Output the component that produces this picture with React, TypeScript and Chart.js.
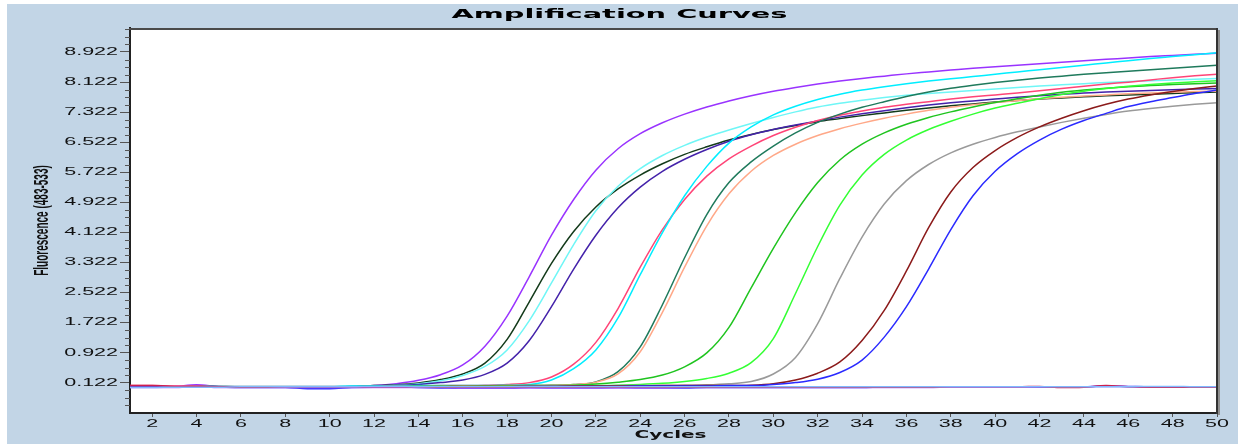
import React, { useEffect, useRef } from "react";
import { Chart, registerables } from "chart.js";

Chart.register(...registerables);

// ---------------- data ----------------
const cycles = [
  1, 2, 3, 4, 5, 6, 7, 8, 9, 10,
  11, 12, 13, 14, 15, 16, 17, 18, 19, 20,
  21, 22, 23, 24, 25, 26, 27, 28, 29, 30,
  31, 32, 33, 34, 35, 36, 37, 38, 39, 40,
  41, 42, 43, 44, 45, 46, 47, 48, 49, 50,
];
const xTickValues = [2, 4, 6, 8, 10, 12, 14, 16, 18, 20, 22, 24, 26, 28, 30, 32, 34, 36, 38, 40, 42, 44, 46, 48, 50];
const yTickValues = [0.122, 0.922, 1.722, 2.522, 3.322, 4.122, 4.922, 5.722, 6.522, 7.322, 8.122, 8.922];
const Y_MINOR_STEP = 0.2;
const X_MIN = 1;
const X_MAX = 50;
const Y_MIN = -0.678;
const Y_MAX = 9.56;

const purple = [
  0.03, 0.02, 0.03, 0.07, 0.03, 0.02, 0.02, 0.02, 0.02, 0.02,
  0.03, 0.05, 0.1, 0.19, 0.34, 0.6, 1.1, 1.9, 2.95, 4.05,
  5.0, 5.78, 6.35, 6.75, 7.04, 7.27, 7.46, 7.62, 7.76, 7.88,
  7.98, 8.07, 8.15, 8.22, 8.28, 8.34, 8.39, 8.44, 8.49, 8.53,
  8.57, 8.61, 8.65, 8.69, 8.73, 8.76, 8.8, 8.83, 8.86, 8.89,
];
const darkGreen = [
  0.02, 0.02, 0.02, 0.04, 0.03, 0.02, 0.02, 0.02, 0.02, 0.02,
  0.03, 0.05, 0.07, 0.12, 0.21, 0.36, 0.65, 1.28, 2.28, 3.3,
  4.15, 4.8, 5.28, 5.65, 5.95, 6.2, 6.4, 6.58, 6.73, 6.86,
  6.97, 7.07, 7.15, 7.23, 7.3, 7.37, 7.43, 7.49, 7.54, 7.59,
  7.63, 7.67, 7.7, 7.73, 7.76, 7.78, 7.8, 7.82, 7.84, 7.86,
];
const lightCyan = [
  0.02, 0.02, 0.02, 0.03, 0.02, 0.02, 0.02, 0.02, 0.02, 0.02,
  0.03, 0.04, 0.06, 0.1, 0.18, 0.32, 0.56, 1.0, 1.78, 2.78,
  3.8, 4.7, 5.35, 5.82, 6.17, 6.44, 6.66, 6.85, 7.02, 7.18,
  7.33, 7.46, 7.56, 7.64, 7.71, 7.77, 7.82, 7.86, 7.9, 7.94,
  7.98, 8.02, 8.05, 8.08, 8.11, 8.14, 8.16, 8.18, 8.2, 8.22,
];
const indigo = [
  0.02, 0.02, 0.02, 0.03, 0.02, 0.01, 0.01, 0.02, 0.01, 0.02,
  0.02, 0.03, 0.05, 0.08, 0.13, 0.2, 0.35, 0.65, 1.25, 2.15,
  3.15, 4.05, 4.78, 5.33, 5.75, 6.07, 6.33, 6.55, 6.72, 6.86,
  6.98, 7.09, 7.19, 7.28, 7.36, 7.44, 7.51, 7.57, 7.62, 7.67,
  7.72, 7.76, 7.8, 7.83, 7.86, 7.88, 7.9, 7.92, 7.94, 7.95,
];
const pink = [
  0.05, 0.05, 0.04, 0.04, 0.03, 0.03, 0.03, 0.03, 0.03, 0.03,
  0.03, 0.03, 0.04, 0.04, 0.05, 0.05, 0.06, 0.08, 0.13, 0.28,
  0.62, 1.2, 2.1, 3.2, 4.2, 5.0, 5.62, 6.08, 6.42, 6.7,
  6.92, 7.1, 7.24, 7.35, 7.45, 7.53, 7.6, 7.67, 7.73, 7.78,
  7.83, 7.89, 7.95, 8.01, 8.07, 8.12, 8.18, 8.24, 8.29, 8.33,
];
const cyan = [
  0.02, 0.02, 0.02, 0.02, 0.03, 0.03, 0.03, 0.03, 0.03, 0.03,
  0.04, 0.04, 0.04, 0.05, 0.05, 0.05, 0.05, 0.06, 0.08, 0.2,
  0.5, 1.0, 1.85, 3.0, 4.12, 5.1, 5.88, 6.5, 6.93, 7.25,
  7.48, 7.66, 7.8, 7.91, 8.0, 8.08, 8.15, 8.21, 8.27, 8.33,
  8.39, 8.45, 8.51, 8.57, 8.63, 8.69, 8.75, 8.8, 8.85, 8.9,
];
const teal = [
  0.02, 0.02, 0.02, 0.02, 0.02, 0.02, 0.02, 0.02, 0.02, 0.02,
  0.02, 0.03, 0.03, 0.03, 0.04, 0.04, 0.04, 0.05, 0.05, 0.06,
  0.08, 0.15, 0.42, 1.08, 2.2, 3.45, 4.6, 5.45, 6.0, 6.42,
  6.77, 7.05, 7.27, 7.45, 7.6, 7.74, 7.86, 7.96, 8.04, 8.11,
  8.17, 8.23, 8.28, 8.33, 8.37, 8.41, 8.45, 8.49, 8.53, 8.57,
];
const salmon = [
  0.02, 0.02, 0.02, 0.02, 0.02, 0.02, 0.02, 0.02, 0.02, 0.02,
  0.02, 0.02, 0.03, 0.03, 0.03, 0.04, 0.04, 0.05, 0.05, 0.06,
  0.08, 0.14, 0.36, 0.95, 2.0, 3.2, 4.3, 5.15, 5.75, 6.17,
  6.47, 6.7, 6.88, 7.03, 7.16, 7.27, 7.37, 7.45, 7.52, 7.58,
  7.63, 7.68, 7.72, 7.75, 7.78, 7.81, 7.83, 7.85, 7.87, 7.88,
];
const mediumGreen = [
  0.02, 0.02, 0.02, 0.02, 0.02, 0.02, 0.02, 0.02, 0.02, 0.02,
  0.02, 0.02, 0.02, 0.03, 0.03, 0.03, 0.04, 0.04, 0.05, 0.05,
  0.06, 0.09, 0.14, 0.21, 0.33, 0.55, 0.92, 1.6, 2.65, 3.7,
  4.65, 5.45, 6.05, 6.47, 6.77, 7.0, 7.18, 7.33, 7.46, 7.58,
  7.68, 7.77, 7.85, 7.91, 7.96, 8.0, 8.03, 8.06, 8.08, 8.1,
];
const lime = [
  0.02, 0.02, 0.02, 0.02, 0.02, 0.02, 0.02, 0.02, 0.02, 0.02,
  0.02, 0.02, 0.02, 0.02, 0.03, 0.03, 0.03, 0.04, 0.04, 0.04,
  0.05, 0.05, 0.06, 0.08, 0.11, 0.16, 0.24, 0.38, 0.66, 1.3,
  2.5, 3.75, 4.85, 5.65, 6.2, 6.58, 6.86, 7.08, 7.27, 7.43,
  7.56, 7.68, 7.79, 7.88, 7.95, 8.01, 8.06, 8.1, 8.13, 8.16,
];
const gray = [
  0.02, 0.02, 0.02, 0.02, 0.02, 0.02, 0.02, 0.02, 0.02, 0.02,
  0.02, 0.02, 0.02, 0.02, 0.03, 0.03, 0.03, 0.03, 0.04, 0.04,
  0.04, 0.04, 0.05, 0.05, 0.05, 0.06, 0.07, 0.1, 0.16, 0.36,
  0.8, 1.7, 2.9, 4.0, 4.88, 5.5, 5.93, 6.24, 6.47, 6.65,
  6.8, 6.93, 7.05, 7.16, 7.26, 7.35, 7.42, 7.48, 7.53, 7.57,
];
const darkRed = [
  0.02, 0.02, 0.02, 0.02, 0.02, 0.02, 0.02, 0.02, 0.02, 0.02,
  0.02, 0.02, 0.02, 0.02, 0.02, 0.03, 0.03, 0.03, 0.03, 0.03,
  0.04, 0.04, 0.04, 0.04, 0.05, 0.05, 0.05, 0.05, 0.06, 0.1,
  0.2, 0.38, 0.68, 1.25, 2.05, 3.1, 4.25, 5.2, 5.85, 6.3,
  6.65, 6.93, 7.16, 7.36, 7.53, 7.67, 7.78, 7.87, 7.95, 8.02,
];
const blue = [
  0.01, 0.01, 0.01, 0.01, 0.01, 0.01, 0.01, 0.01, 0.01, 0.01,
  0.01, 0.01, 0.02, 0.02, 0.02, 0.02, 0.02, 0.02, 0.03, 0.03,
  0.03, 0.03, 0.03, 0.04, 0.04, 0.04, 0.04, 0.05, 0.05, 0.08,
  0.13, 0.22, 0.4, 0.73, 1.34, 2.15, 3.15, 4.2, 5.1, 5.75,
  6.22, 6.58, 6.87, 7.1, 7.29, 7.47, 7.6, 7.71, 7.82, 7.91,
];
const flatBlue = [
  0.01, 0.01, 0.01, 0.02, 0.01, 0.0, 0.0, 0.0, -0.03, -0.03,
  0.0, 0.01, 0.01, 0.0, -0.01, -0.02, -0.02, -0.02, 0.0, -0.01,
  -0.01, -0.01, 0.0, -0.01, -0.01, -0.01, 0.0, 0.0, 0.0, 0.0,
  0.0, 0.0, 0.0, 0.0, 0.01, 0.01, 0.02, 0.02, 0.02, 0.01,
  0.01, 0.01, 0.01, 0.02, 0.04, 0.03, 0.02, 0.02, 0.02, 0.02,
];
const flatRed = [
  0.05, 0.05, 0.03, 0.02, 0.02, 0.01, 0.01, 0.02, 0.02, 0.02,
  0.02, 0.02, 0.02, 0.02, 0.01, 0.01, 0.01, 0.01, 0.01, 0.01,
  0.01, 0.01, 0.01, 0.01, 0.01, 0.01, 0.01, 0.01, 0.01, 0.01,
  0.01, 0.01, 0.01, 0.01, 0.01, 0.01, 0.01, 0.02, 0.02, 0.02,
  0.02, 0.03, 0.0, 0.01, 0.05, 0.02, 0.01, 0.01, 0.01, 0.01,
];
const flatLight = [
  0.0, 0.0, 0.01, 0.01, 0.01, 0.02, 0.02, 0.02, 0.02, 0.02,
  0.02, 0.03, 0.03, 0.02, 0.02, 0.02, 0.02, 0.02, 0.02, 0.02,
  0.02, 0.02, 0.02, 0.02, 0.02, 0.02, 0.02, 0.02, 0.02, 0.02,
  0.02, 0.02, 0.02, 0.02, 0.02, 0.02, 0.02, 0.02, 0.02, 0.02,
  0.02, 0.02, 0.02, 0.02, 0.02, 0.02, 0.03, 0.03, 0.02, 0.02,
];
const flatViolet = [
  0.0, 0.0, 0.0, 0.03, 0.0, 0.0, 0.0, 0.0, 0.0, 0.0,
  0.0, 0.0, 0.0, 0.0, 0.0, -0.01, -0.01, -0.01, -0.01, -0.01,
  -0.01, -0.01, -0.01, -0.01, -0.01, 0.0, 0.0, 0.0, 0.0, 0.0,
  0.0, 0.0, 0.0, 0.0, 0.0, 0.0, 0.0, 0.01, 0.01, 0.01,
  0.01, 0.02, 0.02, 0.02, 0.03, 0.02, 0.01, 0.01, 0.01, 0.01,
];

const seriesDefs = [
  { label: "Neg 1", values: flatLight, color: "#80b8ff" },
  { label: "Neg 2", values: flatRed, color: "#cc1f4f" },
  { label: "Neg 3", values: flatViolet, color: "#b060ff" },
  { label: "Neg 4", values: flatBlue, color: "#2b2bff" },
  { label: "S13", values: blue, color: "#2a2aff" },
  { label: "S12", values: darkRed, color: "#8b1a1a" },
  { label: "S11", values: gray, color: "#9a9a9a" },
  { label: "S10", values: lime, color: "#33ff33" },
  { label: "S9", values: mediumGreen, color: "#1fc41f" },
  { label: "S8", values: salmon, color: "#ffa888" },
  { label: "S7", values: teal, color: "#1f7a5c" },
  { label: "S6", values: cyan, color: "#00eeff" },
  { label: "S5", values: pink, color: "#ff4477" },
  { label: "S4", values: indigo, color: "#4422aa" },
  { label: "S3", values: lightCyan, color: "#6ff6f6" },
  { label: "S2", values: darkGreen, color: "#133a1a" },
  { label: "S1", values: purple, color: "#9933ff" },
];

// ---------------- styling helpers ----------------
const TITLE_TEXT = "Amplification Curves";
const TITLE_FONT = { family: '"DejaVu Sans", sans-serif', size: 12, weight: "bold" };
const TITLE_TARGET_W = 336;
const X_TITLE_FONT = { family: '"DejaVu Sans", sans-serif', size: 11, weight: "bold" };
const X_TITLE_TARGET_W = 72;
const Y_TITLE_FONT = { family: '"Liberation Sans", Arial, sans-serif', size: 10, weight: "bold" };
const Y_TITLE_SX = 2.0;
const TICK_FONT = { family: '"Liberation Sans", Arial, sans-serif', size: 10 };
const TICK_SX = 2.15;

const fontStr = (f: any) => `${f.weight ? f.weight + " " : ""}${f.size}px ${f.family}`;

function measure(ctx: CanvasRenderingContext2D, f: any, text: string) {
  ctx.save();
  ctx.font = fontStr(f);
  const w = ctx.measureText(text).width;
  ctx.restore();
  return w;
}

// Stretch text horizontally around its anchor (the reference glyphs are widened).
function withStretch(ctx: any, sx: number, fn: () => void, dx = 0) {
  const orig = CanvasRenderingContext2D.prototype.translate;
  ctx.translate = function (x: number, y: number) {
    orig.call(ctx, x + dx, y);
    ctx.scale(sx, 1);
  };
  try {
    fn();
  } finally {
    delete ctx.translate;
  }
}

function patchScale(scale: any, titleSx: () => number, titleDx: number) {
  if (scale.__stretched) return;
  scale.__stretched = true;
  const proto = Object.getPrototypeOf(scale);
  scale.drawLabels = function (area: any) {
    withStretch(this.ctx, TICK_SX, () => proto.drawLabels.call(this, area));
  };
  scale.drawTitle = function () {
    withStretch(this.ctx, titleSx(), () => proto.drawTitle.call(this), titleDx);
  };
}

const framePlugin = {
  id: "ampFrame",
  beforeDraw(chart: any) {
    const { ctx, width, height, chartArea: a } = chart;
    ctx.save();
    ctx.fillStyle = "#ffffff";
    ctx.fillRect(0, 0, width, height);
    ctx.fillStyle = "#c2d5e6";
    ctx.fillRect(7, 4, width - 7, height - 4);
    ctx.fillStyle = "#ffffff";
    ctx.fillRect(a.left, a.top, a.right - a.left, a.bottom - a.top);
    ctx.restore();
  },
  afterLayout(chart: any) {
    const tb = chart.titleBlock;
    if (tb && !tb.__stretched) {
      tb.__stretched = true;
      const orig = tb.draw.bind(tb);
      tb.draw = (area: any) => {
        const sx = TITLE_TARGET_W / measure(chart.ctx, TITLE_FONT, TITLE_TEXT);
        withStretch(chart.ctx, sx, () => orig(area), 11);
      };
    }
  },
  afterDraw(chart: any) {
    const { ctx, chartArea: a, scales } = chart;
    const ys = scales.y;
    ctx.save();
    // minor ticks on the y axis
    ctx.strokeStyle = "#555";
    ctx.lineWidth = 1;
    ctx.beginPath();
    for (let k = -4; k <= 48; k++) {
      if (k % 4 === 0) continue;
      const v = yTickValues[0] + k * Y_MINOR_STEP;
      if (v <= ys.min || v >= ys.max) continue;
      const py = Math.round(ys.getPixelForValue(v)) + 0.5;
      ctx.moveTo(a.left - 5, py);
      ctx.lineTo(a.left, py);
    }
    ctx.stroke();
    // top and right frame with a small shadow
    ctx.lineWidth = 2;
    ctx.strokeStyle = "#4a4a4a";
    ctx.beginPath();
    ctx.moveTo(a.left - 1, a.top + 1);
    ctx.lineTo(a.right + 1, a.top + 1);
    ctx.stroke();
    ctx.strokeStyle = "#333";
    ctx.beginPath();
    ctx.moveTo(a.right, a.top);
    ctx.lineTo(a.right, a.bottom + 1);
    ctx.stroke();
    ctx.strokeStyle = "#8f8f8f";
    ctx.beginPath();
    ctx.moveTo(a.right + 2, a.top + 2);
    ctx.lineTo(a.right + 2, a.bottom + 2);
    ctx.stroke();
    ctx.restore();
  },
};

export default function App() {
  const ref = useRef<HTMLCanvasElement>(null);

  useEffect(() => {
    const canvas = ref.current;
    if (!canvas) return;
    const datasets = seriesDefs.map((s) => ({
      label: s.label,
      data: cycles.map((c, i) => ({ x: c, y: s.values[i] })),
      borderColor: s.color,
      backgroundColor: s.color,
      borderWidth: 1.5,
      pointRadius: 0,
      cubicInterpolationMode: "monotone",
      fill: false,
    }));

    const chart = new Chart(canvas, {
      type: "line",
      data: { datasets },
      plugins: [framePlugin],
      options: {
        responsive: false,
        devicePixelRatio: 1,
        animation: false,
        events: [],
        layout: { padding: { left: 0, right: 21, top: 0, bottom: 0 } },
        plugins: {
          legend: { display: false },
          tooltip: { enabled: false },
          title: {
            display: true,
            text: TITLE_TEXT,
            color: "#000",
            font: TITLE_FONT as any,
            padding: { top: 7.5, bottom: 6.1 },
          },
        },
        scales: {
          x: {
            type: "linear",
            min: X_MIN,
            max: X_MAX,
            afterBuildTicks: (s: any) => {
              s.ticks = xTickValues.map((v) => ({ value: v }));
            },
            afterFit: (s: any) => {
              s.height = 31;
              patchScale(s, () => X_TITLE_TARGET_W / measure(s.ctx, X_TITLE_FONT, "Cycles"), -3);
            },
            ticks: {
              autoSkip: false,
              maxRotation: 0,
              padding: 1,
              color: "#111",
              font: TICK_FONT as any,
              callback: (v: any) => String(v),
            },
            grid: {
              display: true,
              drawOnChartArea: false,
              drawTicks: true,
              tickLength: 4,
              tickColor: "#555",
              tickWidth: 1,
            },
            border: { display: true, color: "#222", width: 2 },
            title: {
              display: true,
              text: "Cycles",
              color: "#111",
              font: X_TITLE_FONT as any,
              padding: { top: 0, bottom: 2 },
            },
          },
          y: {
            type: "linear",
            min: Y_MIN,
            max: Y_MAX,
            afterBuildTicks: (s: any) => {
              s.ticks = yTickValues.map((v) => ({ value: v }));
            },
            afterFit: (s: any) => {
              s.width = 130;
              patchScale(s, () => Y_TITLE_SX, 0);
            },
            ticks: {
              autoSkip: false,
              padding: 2,
              color: "#111",
              font: TICK_FONT as any,
              callback: (v: any) => Number(v).toFixed(3),
            },
            grid: {
              display: true,
              drawOnChartArea: false,
              drawTicks: true,
              tickLength: 10,
              tickColor: "#555",
              tickWidth: 1,
            },
            border: { display: true, color: "#222", width: 2 },
            title: {
              display: true,
              text: "Fluorescence (483-533)",
              color: "#111",
              font: Y_TITLE_FONT as any,
              padding: { top: 36, bottom: 0 },
            },
          },
        },
      } as any,
    });
    return () => chart.destroy();
  }, []);

  return (
    <div
      style={{
        position: "fixed",
        left: 0,
        top: 0,
        width: 1238,
        height: 444,
        background: "#ffffff",
      }}
    >
      <canvas ref={ref} width={1238} height={444} style={{ display: "block", width: 1238, height: 444 }} />
    </div>
  );
}
